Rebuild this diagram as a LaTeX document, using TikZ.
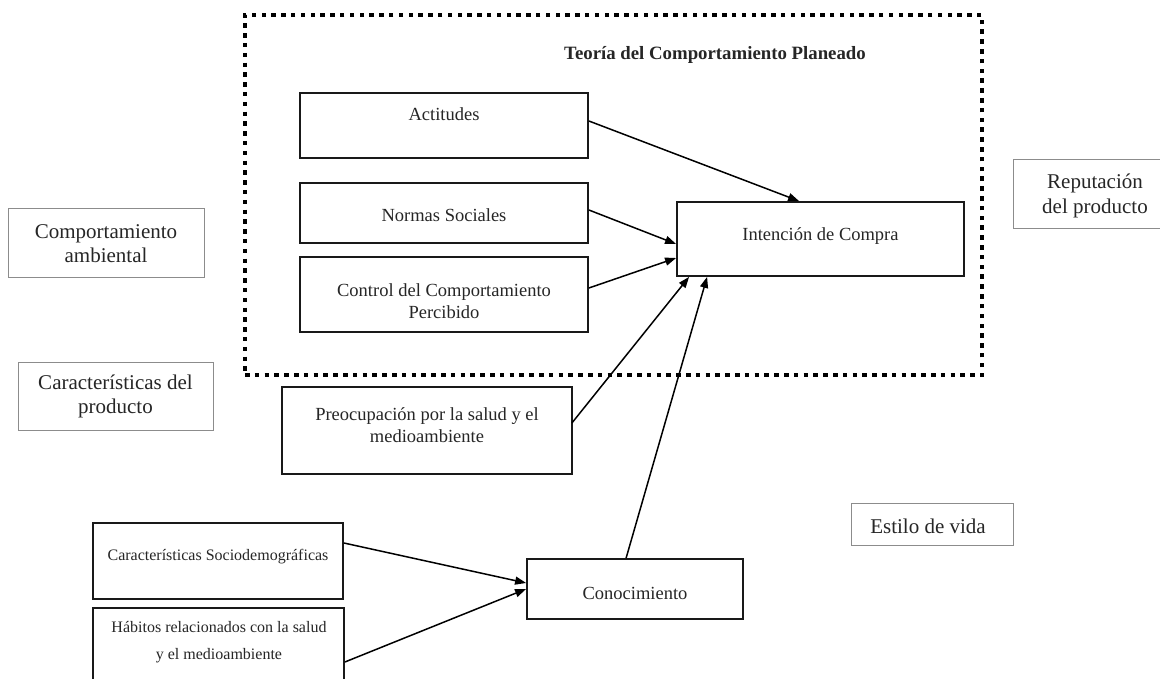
\documentclass[tikz,border=0pt]{standalone}
\usepackage{fontspec}
\setmainfont{Liberation Serif}
\usetikzlibrary{arrows.meta,calc}
\begin{document}
\begin{tikzpicture}[x=1pt,y=-1pt,
  blackbox/.style={draw=black!90,line width=1.8pt,inner sep=0pt},
  graybox/.style={draw=black!45,line width=0.9pt,inner sep=0pt},
  maintext/.style={font=\fontsize{18.5}{22.5}\selectfont,align=center,inner sep=0pt,text=black!85},
  smalltext/.style={font=\fontsize{16}{27}\selectfont,align=center,inner sep=0pt,text=black!85},
  graytext/.style={font=\fontsize{21}{24.5}\selectfont,align=center,inner sep=0pt,text=black!85},
  arr/.style={line width=1.5pt,-{Triangle[length=11pt,width=8pt]}},
  dotbox/.style={draw=black,line width=4.5pt,dash pattern=on 4.5pt off 5.3pt,inner sep=0pt}]
\useasboundingbox (0,0) rectangle (1160,679);
\clip (0,0) rectangle (1160,679);
\fill[white] (0,0) rectangle (1160,679);

% dotted frame
\node[dotbox,minimum width=737pt,minimum height=360pt] (tpb) at (613.5,195) {};
\node[maintext,font=\fontsize{18.8}{22}\selectfont\bfseries] (title) at (715,55) {Teoría del Comportamiento Planeado};

% boxes
\node[blackbox,minimum width=288pt,minimum height=65pt] (act) at (444,125.5) {};
\node[blackbox,minimum width=288pt,minimum height=60pt] (norm) at (444,213) {};
\node[blackbox,minimum width=288pt,minimum height=75pt] (ctrl) at (444,294.5) {};
\node[blackbox,minimum width=287pt,minimum height=74pt] (int) at (820.5,239) {};
\node[blackbox,minimum width=290pt,minimum height=87pt] (preo) at (427,430.5) {};
\node[blackbox,minimum width=250pt,minimum height=76pt] (socio) at (218,561) {};
\node[blackbox,minimum width=251pt,minimum height=92pt] (habit) at (218.5,654) {};
\node[blackbox,minimum width=216pt,minimum height=60pt] (conoc) at (635,589) {};

\node[graybox,minimum width=162pt,minimum height=42pt] (estilo) at (932,524) {};
\node[graybox,minimum width=157pt,minimum height=69pt] (rep) at (1091.5,193.5) {};
\node[graybox,minimum width=196pt,minimum height=69pt] (comp) at (106,242.5) {};
\node[graybox,minimum width=195pt,minimum height=68pt] (carp) at (115.5,396) {};

% texts
\node[maintext] (actT) at (444,114) {Actitudes};
\node[maintext] (normT) at (444,215) {Normas Sociales};
\node[maintext] (ctrlT) at (444,301) {Control del Comportamiento\\Percibido};
\node[maintext] (intT) at (820.5,236) {Intención de Compra};
\node[maintext] (preoT) at (427,425) {Preocupación por la salud y el\\medioambiente};
\node[smalltext] (socioT) at (218,557) {Características Sociodemográficas};
\node[smalltext] (habitT) at (219,642) {Hábitos relacionados con la salud\\y el medioambiente};
\node[maintext] (conocT) at (635,593) {Conocimiento};
\node[graytext] (estiloT) at (928,526) {Estilo de vida};
\node[graytext] (repT) at (1095,196) {Reputación\\del producto};
\node[graytext] (compT) at (106,243.5) {Comportamiento\\ambiental};
\node[graytext] (carpT) at (115.5,396.5) {Características del\\producto};

% connectors
\draw[arr] ($(act.east)+(0,-4.5)$) -- ($(int.north west)+(123,0)$);
\draw[arr] ($(norm.east)+(0,-3)$) -- ($(int.west)+(0,5)$);
\draw[arr] ($(ctrl.east)+(0,-6.5)$) -- ($(int.west)+(0,19)$);
\draw[arr] ($(preo.east)+(-1,-7.5)$) -- ($(int.south west)+(13,0)$);
\draw[arr] ($(conoc.north west)+(100,0)$) -- ($(int.south west)+(31,0)$);
\draw[arr] ($(socio.east)+(0,-18)$) -- ($(conoc.west)+(0,-6)$);
\draw[arr] ($(habit.east)+(0,8)$) -- ($(conoc.west)+(0,0)$);
\end{tikzpicture}
\end{document}
